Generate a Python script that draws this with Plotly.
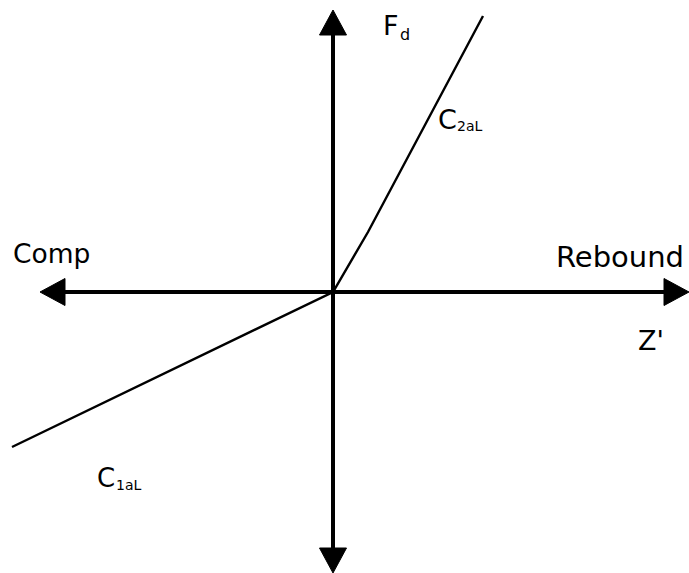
import plotly.graph_objects as go

# Damper force vs. velocity characteristic (piecewise linear)
velocity = [-321, 0, 35, 150]
force = [-155, 0, 60, 276]

# Axis extents (arrow tips) in chart units
x_min, x_max = -293, 356
y_min, y_max = -281, 282

W, H = 689, 573
X_RANGE = [-333, 356]
Y_RANGE = [-281, 292]

FONT = "DejaVu Sans"
BLACK = "#000000"

fig = go.Figure()

fig.add_trace(go.Scatter(
    x=velocity, y=force, mode="lines",
    line=dict(color=BLACK, width=2.4),
    hoverinfo="skip", showlegend=False,
))

# Axis shafts
AXW = 4
ARROW_LEN = 25
ARROW_HALF = 13.5
shapes = [
    dict(type="line", x0=x_min + ARROW_LEN - 2, x1=x_max - ARROW_LEN + 2, y0=0, y1=0,
         line=dict(color=BLACK, width=AXW)),
    dict(type="line", x0=0, x1=0, y0=y_min + ARROW_LEN - 2, y1=y_max - ARROW_LEN + 2,
         line=dict(color=BLACK, width=AXW)),
]


def head(tip_x, tip_y, dx, dy):
    # triangle pointing in direction (dx, dy)
    bx, by = tip_x - dx * ARROW_LEN, tip_y - dy * ARROW_LEN
    px, py = -dy * ARROW_HALF, dx * ARROW_HALF
    return dict(type="path",
                path=f"M {tip_x},{tip_y} L {bx + px},{by + py} L {bx - px},{by - py} Z",
                fillcolor=BLACK, line=dict(color=BLACK, width=1))


shapes += [head(x_min, 0, -1, 0), head(x_max, 0, 1, 0),
           head(0, y_max, 0, 1), head(0, y_min, 0, -1)]


def label(text, px, py, size, anchor="left"):
    return dict(text=text, xref="paper", yref="paper",
                x=px / W, y=1 - py / H, xanchor=anchor, yanchor="middle",
                showarrow=False, font=dict(family=FONT, size=size, color=BLACK))


annotations = [
    label("F", 381, 25, 27),
    label("d", 398, 35, 16),
    label("C", 436, 119, 27),
    label("2aL", 455, 126, 14),
    label("Comp", 11, 253, 26.5),
    label("Rebound", 554, 257, 29),
    label("Z'", 636, 340, 27),
    label("C", 95, 478, 26),
    label("1aL", 114, 485, 14),
]

fig.update_layout(
    width=W, height=H,
    margin=dict(l=0, r=0, t=0, b=0),
    paper_bgcolor="white", plot_bgcolor="white",
    xaxis=dict(range=X_RANGE, visible=False, fixedrange=True),
    yaxis=dict(range=Y_RANGE, visible=False, fixedrange=True),
    shapes=shapes, annotations=annotations,
    showlegend=False,
)

fig.write_html("out.html")
